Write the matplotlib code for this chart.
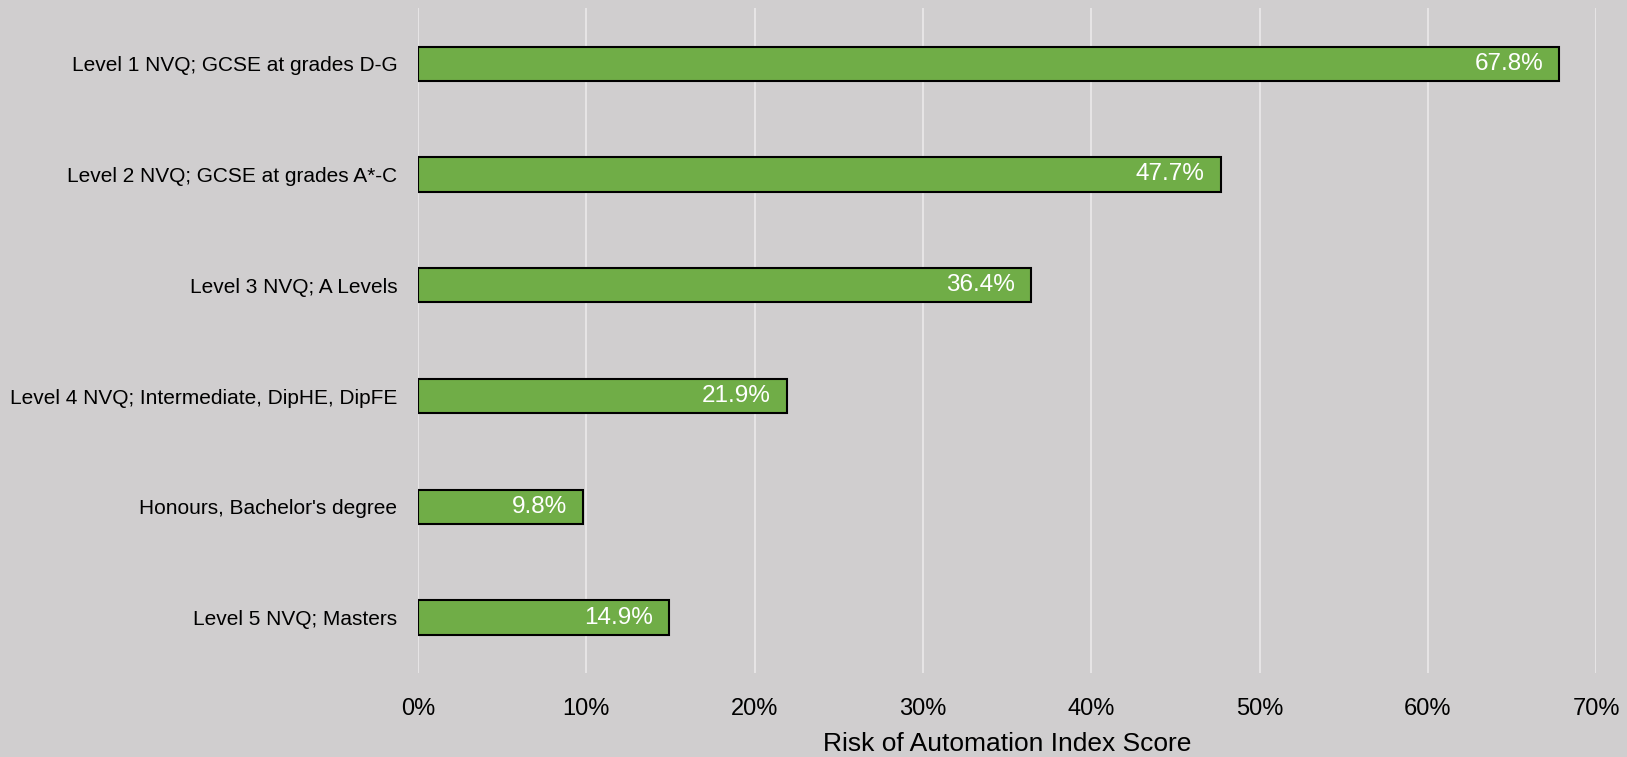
import matplotlib.pyplot as plt
from matplotlib.ticker import PercentFormatter

# Data, top to bottom as shown
categories = [
    "Level 1 NVQ; GCSE at grades D-G",
    "Level 2 NVQ; GCSE at grades A*-C",
    "Level 3 NVQ; A Levels",
    "Level 4 NVQ; Intermediate, DipHE, DipFE",
    "Honours, Bachelor's degree",
    "Level 5 NVQ; Masters",
]
risk = [67.8, 47.7, 36.4, 21.9, 9.8, 14.9]
xticks = [0, 10, 20, 30, 40, 50, 60, 70]

plt.rcParams['font.family'] = ['Liberation Sans', 'DejaVu Sans']
bg = '#d0cecf'

fig = plt.figure(figsize=(16.27, 7.57), dpi=100, facecolor=bg)
ax = fig.add_axes([0.257, 0.111, 0.724, 0.878], facecolor=bg)

ypos = list(range(len(categories)))
bars = ax.barh(ypos, risk, height=0.31, color='#70ad47',
               edgecolor='black', linewidth=1.5, zorder=3)

for b, v in zip(bars, risk):
    ax.text(b.get_width() - 0.95, b.get_y() + b.get_height() / 2,
            f'{v:.1f}%', color='white', ha='right', va='center',
            fontsize=17.5, zorder=4)

ax.set_ylim(len(categories) - 0.5, -0.5)
ax.set_yticks(ypos)
ax.set_yticklabels(categories, fontsize=15)
ax.set_xlim(0, 70)
ax.set_xticks(xticks)
ax.xaxis.set_major_formatter(PercentFormatter(decimals=0))
ax.tick_params(axis='x', labelsize=17, length=0, pad=18)
ax.tick_params(axis='y', length=0, pad=15)
ax.set_xlabel('Risk of Automation Index Score', fontsize=19, labelpad=9)

ax.grid(axis='x', color='#e6e4e5', lw=1.5, zorder=0)
for spine in ('top', 'right', 'bottom', 'left'):
    ax.spines[spine].set_visible(False)

fig.savefig('out.png', dpi=100, facecolor=bg)
